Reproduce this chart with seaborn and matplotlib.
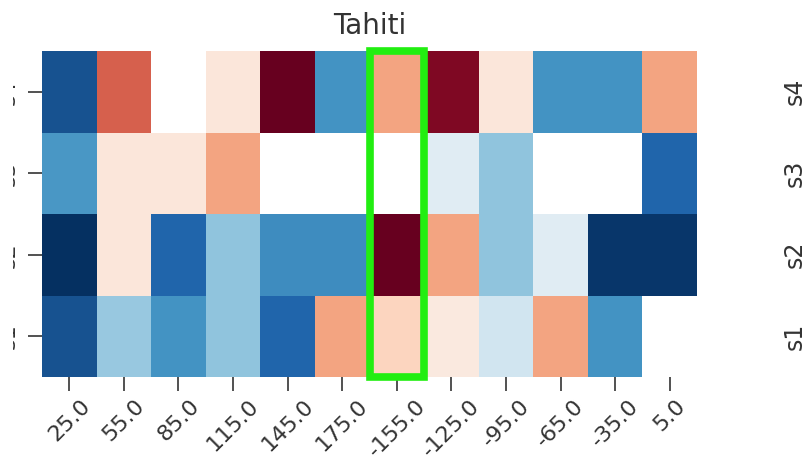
import numpy as np
import pandas as pd
import matplotlib
matplotlib.use("Agg")
import matplotlib.pyplot as plt
from matplotlib.patches import Rectangle
from matplotlib.transforms import Bbox
import seaborn as sns

# Longitude bins (columns) and stations (rows, top to bottom)
longitudes = [25.0, 55.0, 85.0, 115.0, 145.0, 175.0,
              -155.0, -125.0, -95.0, -65.0, -35.0, 5.0]
stations = ["s4", "s3", "s2", "s1"]

nan = np.nan
s4_vals = [-0.87, 0.60, nan, 0.12, 1.00, -0.60, 0.40, 0.93, 0.12, -0.60, -0.60, 0.40]
s3_vals = [-0.58, 0.12, 0.12, 0.40, nan, nan, nan, -0.12, -0.40, nan, nan, -0.80]
s2_vals = [-1.00, 0.12, -0.80, -0.40, -0.63, -0.63, 1.00, 0.40, -0.40, -0.12, -0.97, -0.97]
s1_vals = [-0.87, -0.38, -0.60, -0.40, -0.80, 0.40, 0.22, 0.10, -0.20, 0.40, -0.60, nan]

highlight_lon = -155.0
title = "Tahiti"

df = pd.DataFrame([s4_vals, s3_vals, s2_vals, s1_vals],
                  index=stations, columns=longitudes)

fig = plt.figure(figsize=(8.08, 4.69), dpi=100)
ax = fig.add_axes([42 / 808, 1 - 377 / 469, (697 - 42) / 808, (377 - 51) / 469])

sns.heatmap(df, ax=ax, cmap="RdBu_r", vmin=-1, vmax=1, center=0, cbar=False)

ax.set_title(title, fontsize=20, pad=12, color="#333333")
ax.set_xlabel("")
ax.set_ylabel("")

ax.set_xticklabels([str(v) for v in longitudes], rotation=45, fontsize=16,
                   color="#333333")
ax.set_yticklabels(stations, rotation=90, va="center", fontsize=16,
                   color="#333333")
ax.tick_params(axis="both", length=10, width=1.2, color="#333333")
ax.tick_params(axis="y", pad=7)

# left labels only partly shown
clip = Bbox([[13, 0], [60, 469]])
for lbl in ax.get_yticklabels():
    lbl.set_clip_on(True)
    lbl.set_clip_box(clip)

# highlight one longitude column
col = longitudes.index(highlight_lon)
ax.add_patch(Rectangle((col, 0), 1, len(stations), fill=False,
                       edgecolor="#22ee11", lw=5.5, clip_on=False, zorder=5))

# station names repeated on the right
ax2 = ax.twinx()
ax2.set_ylim(ax.get_ylim())
ax2.set_yticks(np.arange(len(stations)) + 0.5)
ax2.set_yticklabels(stations, rotation=90, va="center", fontsize=17,
                    color="#333333")
ax2.tick_params(axis="y", length=0, pad=62)
for sp in ax2.spines.values():
    sp.set_visible(False)

fig.savefig("out.png", dpi=100)
